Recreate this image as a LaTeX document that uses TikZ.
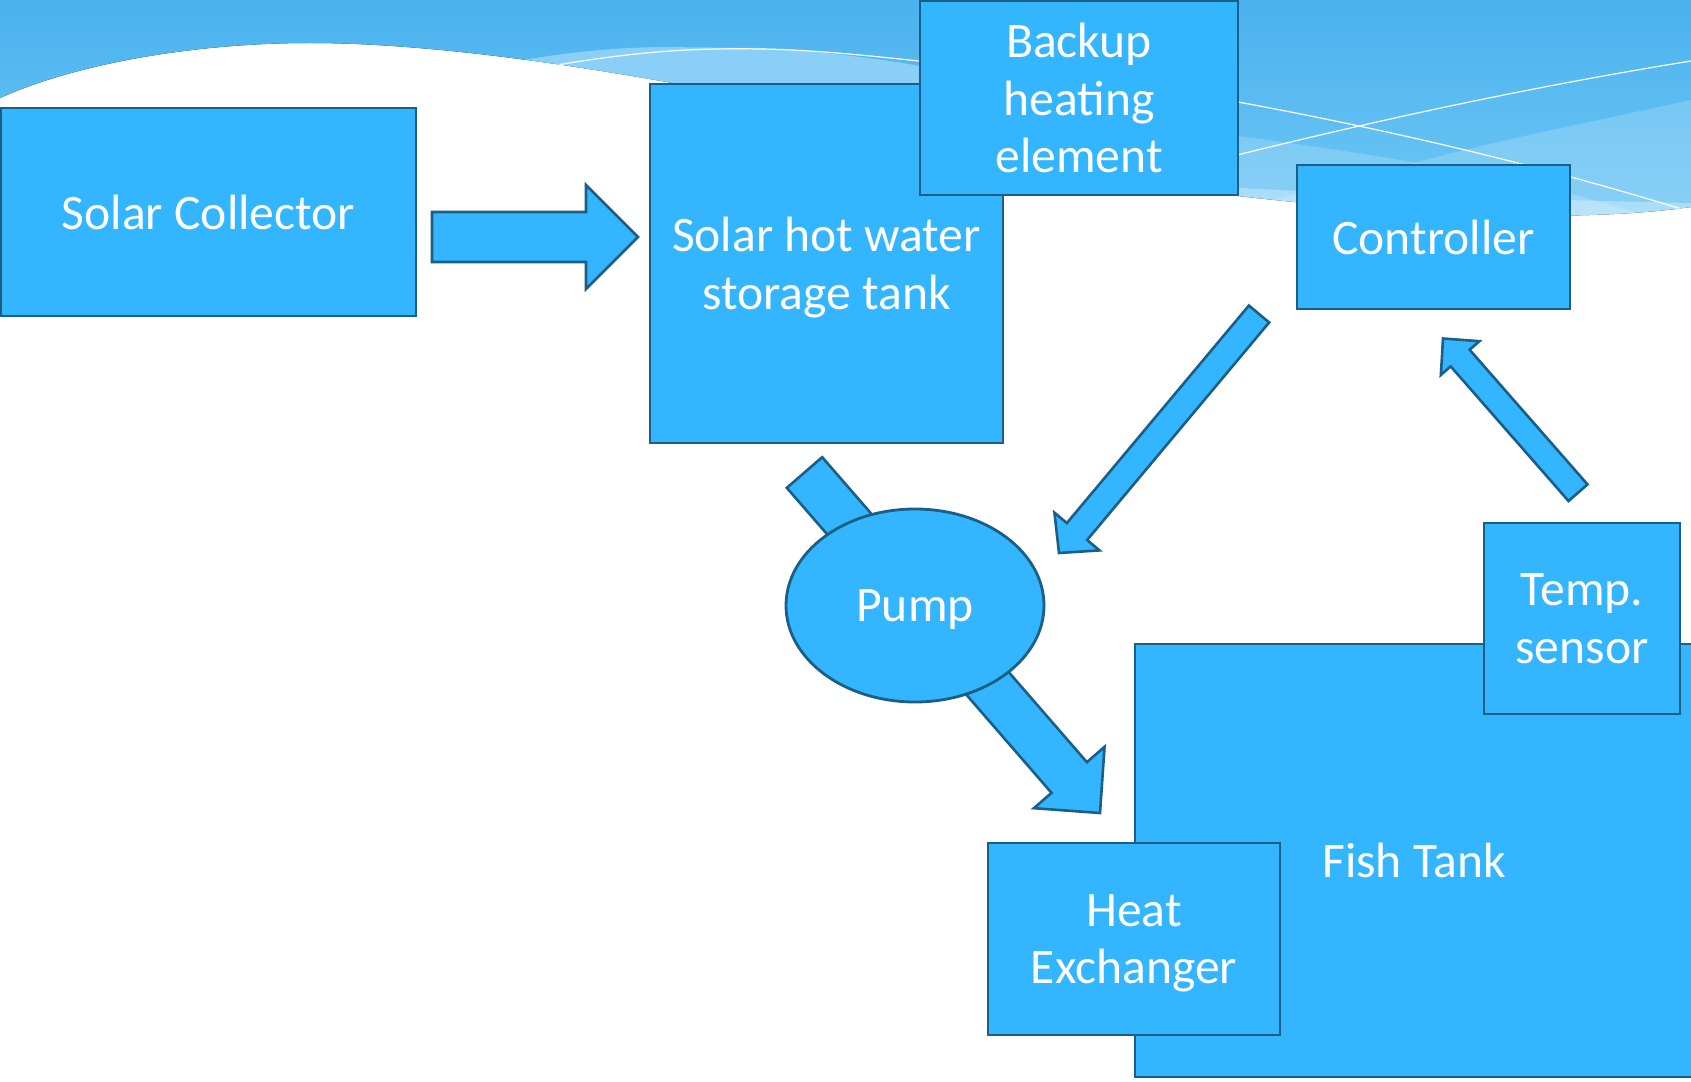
\documentclass[tikz,border=0pt]{standalone}
\usepackage{fontspec}
\setmainfont{Carlito}
\usetikzlibrary{calc,shapes.geometric}
\definecolor{boxfill}{RGB}{51,181,255}
\definecolor{boxline}{RGB}{27,94,134}
\definecolor{skytop}{RGB}{74,178,238}
\definecolor{skybot}{RGB}{112,200,246}
\definecolor{skylight}{RGB}{138,207,248}
\tikzset{
  box/.style={rectangle, draw=boxline, fill=boxfill, line width=1.4pt, text=white,
    align=center, inner sep=0pt, text depth=0pt, font=\fontsize{24.8}{28.8}\selectfont},
  pumpshape/.style={ellipse, draw=boxline, fill=boxfill, line width=1.4pt, text=white,
    inner sep=0pt, text depth=0pt, font=\fontsize{24.8}{28.8}\selectfont},
  fatarrow/.style={draw=boxline, fill=boxfill, line width=1.3pt, line join=miter},
  wispline/.style={white, line width=0.6pt},
}
% start, end, half shaft, half head, head length
\newcommand\blockarrow[5]{%
  \coordinate (ba-b) at ($(#2)!#5!(#1)$);
  \filldraw[fatarrow] ($(#1)!#3!90:(#2)$) -- ($(ba-b)!#3!-90:(#1)$) -- ($(ba-b)!#4!-90:(#1)$)
    -- (#2) -- ($(ba-b)!#4!90:(#1)$) -- ($(ba-b)!#3!90:(#1)$) -- ($(#1)!#3!-90:(#2)$) -- cycle;}
\begin{document}
\begin{tikzpicture}[x=0.5pt,y=-0.5pt]
\useasboundingbox (0,0) rectangle (1691,1081);
\fill[white] (0,0) rectangle (1691,1081);
% ---------- background wave ----------
\begin{scope}
  \clip (0,0) -- (1691,0) -- (1691,207) .. controls (1600,220) and (1450,220) .. (1238,196)
    -- (700,88) .. controls (560,62) and (420,43) .. (310,43)
    .. controls (200,43) and (80,62) .. (0,98) -- cycle;
  \fill[top color=skytop, bottom color=skybot] (0,0) rectangle (1691,230);
  \fill[skylight] (460,72) .. controls (540,55) and (600,48) .. (660,47) -- (760,48)
    .. controls (830,52) and (890,60) .. (930,68) -- (930,300) -- (460,300) -- cycle;
  \fill[white, opacity=0.18] (1238,136) .. controls (1330,148) and (1420,162) .. (1520,182)
    .. controls (1600,200) and (1650,215) .. (1691,235) -- (1691,300) -- (1238,300) -- cycle;
  \fill[white, opacity=0.18] (1691,100) .. controls (1600,120) and (1500,140) .. (1425,160)
    .. controls (1350,180) and (1290,195) .. (1238,210) -- (1238,300) -- (1691,300) -- cycle;
  \fill[white, opacity=0.3] (1238,188) .. controls (1400,196) and (1550,200) .. (1691,203)
    -- (1691,300) -- (1238,300) -- cycle;
  \draw[wispline] (540,68) .. controls (640,50) and (700,48) .. (760,49)
    .. controls (850,50) and (1000,70) .. (1238,102)
    .. controls (1400,132) and (1550,168) .. (1691,212);
  \draw[wispline] (1100,190) .. controls (1250,151) and (1450,100) .. (1691,61);
\end{scope}
% ---------- boxes ----------
\node[box, minimum width=207.5pt, minimum height=104pt] (sc) at (208.5,212) {Solar Collector};
\node[box, minimum width=176.5pt, minimum height=179.5pt] (tank) at (826.5,263.5) {Solar hot water\\storage tank};
\node[box, minimum width=159pt, minimum height=97pt] (backup) at (1079,98) {Backup\\heating\\element};
\node[box, minimum width=136.5pt, minimum height=72pt] (ctrl) at (1433.5,237) {Controller};
\node[box, minimum width=279pt, minimum height=216.5pt] (fish) at (1414,860.5) {Fish Tank};
\node[box, minimum width=98pt, minimum height=95.5pt] (sensor) at (1582,618.5) {Temp.\\sensor};
\node[box, minimum width=146pt, minimum height=96pt] (hx) at (1134,939) {Heat\\Exchanger};
% ---------- block arrows ----------
\coordinate (a1s) at (432,237);   \coordinate (a1e) at (638,237);
\coordinate (a2s) at (804.5,472.5); \coordinate (a2e) at (1100,813);
\coordinate (a3s) at (1259,314);  \coordinate (a3e) at (1059,553);
\coordinate (a4s) at (1578,492.7); \coordinate (a4e) at (1443,338.5);
\blockarrow{a1s}{a1e}{12.5pt}{26pt}{26pt}
\blockarrow{a2s}{a2e}{11.7pt}{23.4pt}{23.5pt}
\blockarrow{a3s}{a3e}{6.6pt}{14.7pt}{14pt}
\blockarrow{a4s}{a4e}{6.3pt}{12.8pt}{13pt}
% ---------- pump ----------
\node[pumpshape, minimum width=129pt, minimum height=96.5pt] (pump) at (915,605.5) {Pump};
\end{tikzpicture}
\end{document}
